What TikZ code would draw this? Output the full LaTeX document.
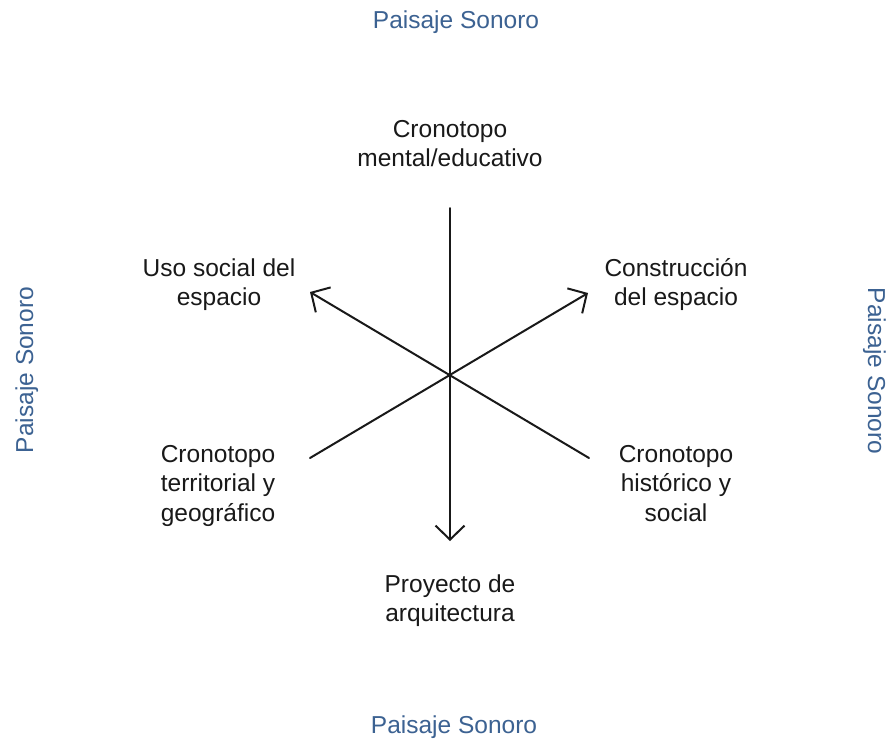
\documentclass[tikz,border=0pt]{standalone}
\usepackage{fontspec}
\setmainfont{Liberation Sans}
\usetikzlibrary{arrows.meta}
\definecolor{psblue}{RGB}{60,98,146}
\definecolor{ink}{RGB}{25,25,25}
\begin{document}
\begin{tikzpicture}[x=1pt,y=-1pt,
  lbl/.style={inner sep=0pt,anchor=base,text=ink,font=\fontsize{24.5}{29.5}\selectfont},
  blue/.style={inner sep=0pt,anchor=base,text=psblue,font=\fontsize{24.5}{29.5}\selectfont},
  axis/.style={draw=ink,line width=2pt,line cap=round},
  tip/.style={-{Straight Barb[length=14pt,width=29pt,line width=2pt]}}
]
\useasboundingbox (0,0) rectangle (890,739);
\fill[white] (0,0) rectangle (890,739);
\setlength{\tabcolsep}{0pt}
% axis end points
\coordinate (top) at (450,208);
\coordinate (bot) at (450,541);
\coordinate (ul) at (310,292);
\coordinate (ur) at (588,293);
\coordinate (ll) at (310,458);
\coordinate (lr) at (589,458);
\draw[axis,tip] (top) -- (bot);
\draw[axis,tip] (lr) -- (ul);
\draw[axis,tip] (ll) -- (ur);
% labels
\node[lbl] (mental) at (450,137) {\begin{tabular}[t]{c}Cronotopo\\mental/educativo\end{tabular}};
\node[lbl] (uso) at (219,276) {\begin{tabular}[t]{c}Uso social del\\espacio\end{tabular}};
\node[lbl] (constr) at (676,276) {\begin{tabular}[t]{c}Construcción\\del espacio\end{tabular}};
\node[lbl] (terr) at (218,462) {\begin{tabular}[t]{c}Cronotopo\\territorial y\\geográfico\end{tabular}};
\node[lbl] (hist) at (676,462) {\begin{tabular}[t]{c}Cronotopo\\histórico y\\social\end{tabular}};
\node[lbl] (proy) at (450,592) {\begin{tabular}[t]{c}Proyecto de\\arquitectura\end{tabular}};
% Paisaje Sonoro frame labels
\node[blue] (pstop) at (456,28) {Paisaje Sonoro};
\node[blue] (psbot) at (454,733) {Paisaje Sonoro};
\node[blue,rotate=90] (psleft) at (33,370) {Paisaje Sonoro};
\node[blue,rotate=-90] (psright) at (868,371) {Paisaje Sonoro};
\end{tikzpicture}
\end{document}
